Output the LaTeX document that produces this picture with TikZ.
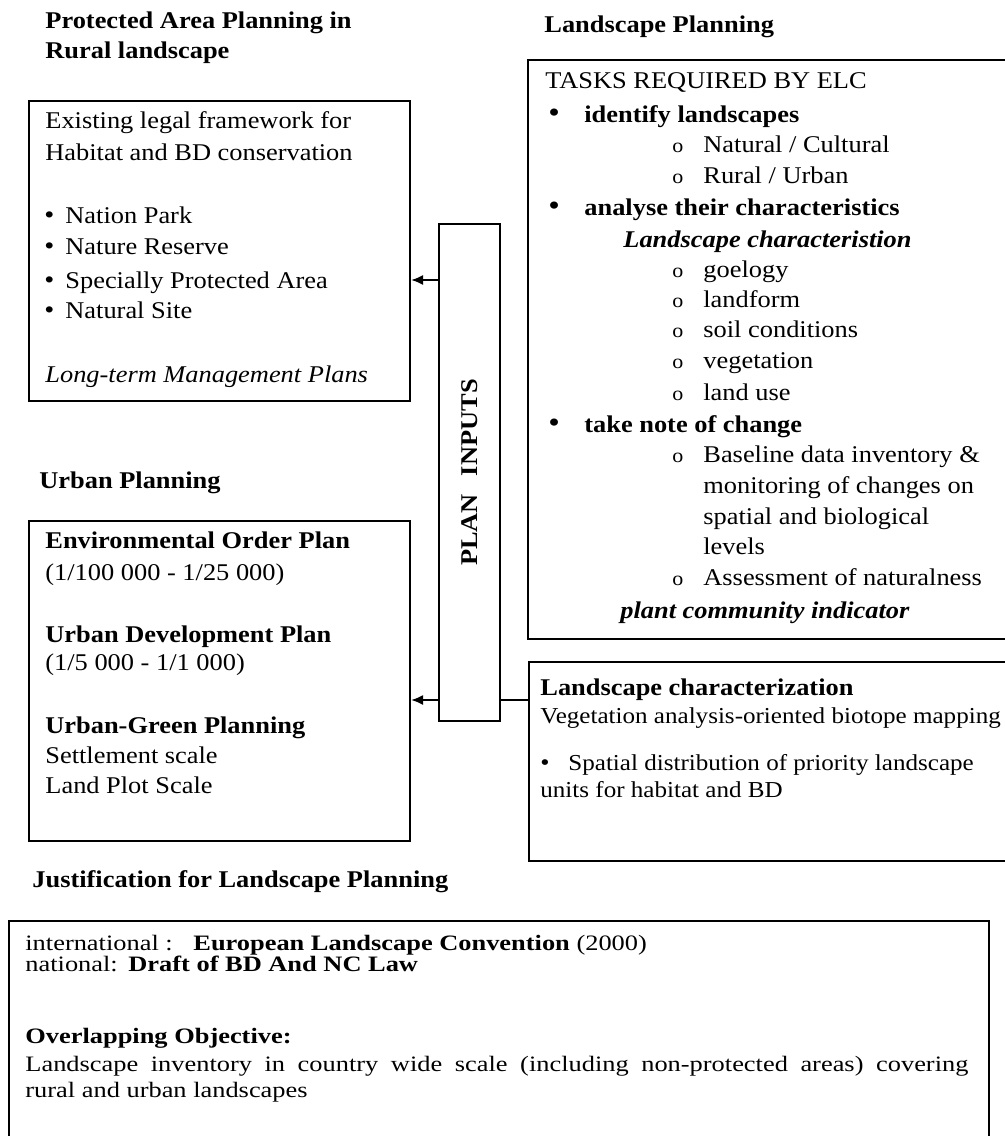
\documentclass[tikz,border=0pt]{standalone}
\usepackage{fontspec}
\setmainfont[FakeStretch=1.1]{Liberation Serif}
\usepackage{tikz}
\usetikzlibrary{arrows.meta}

\newcommand{\txtfont}{\fontsize{12}{14}\selectfont}
\newcommand{\widefont}{\fontsize{11}{12}\selectfont\addfontfeatures{FakeStretch=1.2}}

\tikzset{
  box/.style={draw, line width=1pt, anchor=north west, inner sep=0pt},
  txt/.style={anchor=west, inner sep=0pt, text height=8pt, text depth=3pt, font=\txtfont},
  hd/.style={txt, font=\txtfont\bfseries},
  wide/.style={txt, font=\widefont},
  sub/.style={txt, font=\fontsize{10}{12}\selectfont},
  dot/.style={txt, font=\fontsize{15}{14}\selectfont},
  arr/.style={line width=1pt, -{Latex[length=6pt,width=5pt]}},
}

\begin{document}
\begin{tikzpicture}[x=0.5pt, y=-0.5pt]
\fill[white] (0,0) rectangle (1005,1136);
\useasboundingbox (0,0) rectangle (1005,1136);

% headings
\node[hd] (hProt) at (45,23) {Protected Area Planning in};
\node[hd] (hRural) at (45,53) {Rural landscape};
\node[hd] (hLand) at (544,27) {Landscape Planning};
\node[hd] (hUrban) at (39,483) {Urban Planning};
\node[hd] (hJust) at (32,882) {Justification for Landscape Planning};

% boxes
\node[box, minimum width=190.5pt, minimum height=150pt] (prot) at (28,100) {};
\node[box, minimum width=190.5pt, minimum height=160pt] (urban) at (28,520) {};
\node[box, minimum width=30.5pt, minimum height=248.5pt] (plan) at (438,223) {};
\node[box, minimum width=242.5pt, minimum height=289.5pt] (tasks) at (527,59) {};
\node[box, minimum width=242pt, minimum height=99.5pt] (char) at (528,661) {};
\node[box, minimum width=490pt, minimum height=111pt] (just) at (8,920) {};

\node[rotate=90, font=\txtfont\bfseries] (planTxt) at (plan.center) {PLAN\hspace{9pt}INPUTS};

% protected areas
\node[txt] (p1) at (45,123) {Existing legal framework for};
\node[txt] (p2) at (45,155) {Habitat and BD conservation};
\foreach \y/\t [count=\i] in {218/Nation Park, 249/Nature Reserve, 283/Specially Protected Area, 313/Natural Site}{
  \node[txt, font=\fontsize{13}{14}\selectfont] (pb\i) at (44,\y) {\textbullet};
  \node[txt] (pi\i) at (65,\y) {\t};
}
\node[txt, font=\txtfont\itshape] (p3) at (45,377) {Long-term Management Plans};

% urban planning
\node[hd] (u1) at (45,543) {Environmental Order Plan};
\node[txt] (u2) at (45,575) {(1/100 000 - 1/25 000)};
\node[hd] (u3) at (45,637) {Urban Development Plan};
\node[txt] (u4) at (45,665) {(1/5 000 - 1/1 000)};
\node[hd] (u5) at (45,728) {Urban-Green Planning};
\node[txt] (u6) at (45,758) {Settlement scale};
\node[txt] (u7) at (45,788) {Land Plot Scale};

% tasks required by ELC
\node[txt] (t0) at (545,83) {TASKS REQUIRED BY ELC};
\foreach \y/\t [count=\i] in {117/identify landscapes, 210/analyse their characteristics, 427/take note of change}{
  \node[dot] (tb\i) at (548,\y) {\textbullet};
  \node[hd] (tm\i) at (584,\y) {\t};
}
\foreach \y/\t [count=\i] in {147/{Natural / Cultural}, 178/{Rural / Urban}, 272/goelogy, 302/landform,
    332/soil conditions, 363/vegetation, 395/land use, 457/Baseline data inventory \&, 580/Assessment of naturalness}{
  \node[sub] (to\i) at (672,\y) {o};
  \node[txt] (ts\i) at (703,\y) {\t};
}
\foreach \y/\t [count=\i] in {488/monitoring of changes on, 519/spatial and biological, 549/levels}{
  \node[txt] (tc\i) at (703,\y) {\t};
}
\node[txt, font=\txtfont\bfseries\itshape] (tLc) at (623,242) {Landscape characteristion};
\node[txt, font=\txtfont\bfseries\itshape] (tPc) at (620,613) {plant community indicator};

% landscape characterization
\node[hd] (c1) at (540,690) {Landscape characterization};
\node[txt, font=\fontsize{11.4}{14}\selectfont] (c2) at (540,718) {Vegetation analysis-oriented biotope mapping};
\node[txt, font=\fontsize{12}{14}\selectfont] (c3) at (540,765) {\textbullet};
\node[txt, font=\fontsize{11.4}{14}\selectfont] (c4) at (568,765) {Spatial distribution of priority landscape};
\node[txt, font=\fontsize{11.4}{14}\selectfont] (c5) at (540,792) {units for habitat and BD};

% justification
\node[wide] (j1) at (25,945) {international :};
\node[wide] (j2) at (193,945) {{\bfseries European Landscape Convention} (2000)};
\node[wide] (j3) at (25,966) {national:};
\node[wide, font=\widefont\bfseries] (j4) at (128,966) {Draft of BD And NC Law};
\node[wide, font=\widefont\bfseries] (j5) at (25,1038) {Overlapping Objective:};
\node[wide] (j6) at (25,1066) {\makebox[471.5pt][s]{Landscape inventory in country wide scale (including non-protected areas) covering}};
\node[wide] (j7) at (25,1092) {rural and urban landscapes};

% plan inputs
\coordinate (y280) at (0,280);
\coordinate (y700) at (0,700);
\draw[arr] (plan.west |- y280) -- (prot.east |- y280);
\draw[line width=1pt] (char.west |- y700) -- (plan.east |- y700);
\draw[arr] (plan.west |- y700) -- (urban.east |- y700);
\end{tikzpicture}
\end{document}
